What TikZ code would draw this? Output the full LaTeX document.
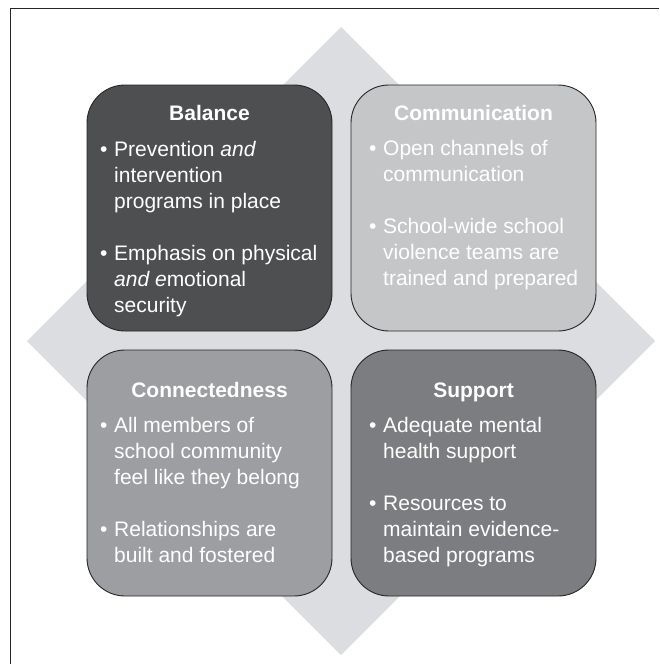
\documentclass[tikz,border=0pt]{standalone}
\usepackage{fontspec}
\setmainfont{Liberation Sans}
\tikzset{>=latex}

\definecolor{diamondgray}{HTML}{DCDDE0}
\definecolor{balancegray}{HTML}{4E4F51}
\definecolor{commgray}{HTML}{C5C6C8}
\definecolor{conngray}{HTML}{9D9EA1}
\definecolor{supportgray}{HTML}{7C7D80}

\tikzset{
  box/.style={draw=black!85, line width=0.9pt, rounded corners=38pt,
    minimum width=245pt, minimum height=246pt, inner sep=0pt},
  boxtitle/.style={white, anchor=base, inner sep=0pt,
    font=\fontsize{21}{26}\selectfont\bfseries},
  boxtext/.style={white, anchor=base west, inner sep=0pt, align=left,
    font=\fontsize{21}{26}\selectfont}
}
\newcommand{\itm}{\makebox[14pt][l]{\textbullet}\ignorespaces}
\newcommand{\ind}{\hspace*{14pt}\ignorespaces}

\begin{document}
\begin{tikzpicture}[x=1pt,y=-1pt]
  \useasboundingbox (0,0) rectangle (659,664);

  % Frame
  \draw[line width=1pt,black!85] (659,8) -- (10,8) -- (10,664);

  % Diamond behind the boxes
  \fill[diamondgray] (341,27) -- (655,341) -- (341,655) -- (27,341) -- cycle;

  % Boxes
  \node[box,fill=balancegray] (balance) at (209.5,208) {};
  \node[box,fill=commgray] (comm) at (473.5,208) {};
  \node[box,fill=conngray] (conn) at (209.5,473) {};
  \node[box,fill=supportgray] (support) at (473.5,473) {};

  % Titles
  \node[boxtitle] (balancetitle) at (209.5,120) {Balance};
  \node[boxtitle] (commtitle) at (473.5,120) {Communication};
  \node[boxtitle] (conntitle) at (209.5,397) {Connectedness};
  \node[boxtitle] (supporttitle) at (473.5,397) {Support};

  % Bullets (anchored at the baseline of the last line)
  \node[boxtext] (balancetext) at (100,312) {\itm Prevention \emph{and}\\
    \ind intervention\\
    \ind programs in place\\[26pt]
    \itm Emphasis on physical\\
    \ind \emph{and e}motional\\
    \ind security};
  \node[boxtext] (commtext) at (369,285) {\itm Open channels of\\
    \ind communication\\[26pt]
    \itm School-wide school\\
    \ind violence teams are\\
    \ind trained and prepared};
  \node[boxtext] (conntext) at (100,562) {\itm All members of\\
    \ind school community\\
    \ind feel like they belong\\[26pt]
    \itm Relationships are\\
    \ind built and fostered};
  \node[boxtext] (supporttext) at (369,562) {\itm Adequate mental\\
    \ind health support\\[26pt]
    \itm Resources to\\
    \ind maintain evidence-\\
    \ind based programs};
\end{tikzpicture}
\end{document}
